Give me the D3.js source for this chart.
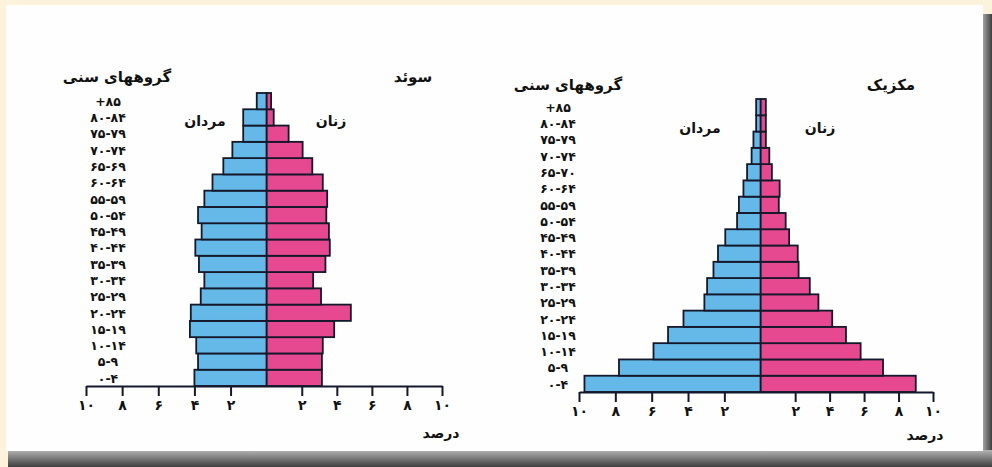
<!DOCTYPE html>
<html>
<head>
<meta charset="utf-8">
<script src="https://cdn.jsdelivr.net/npm/d3@7"></script>
<style>
  body { margin: 0; background: #fdf2dc; }
  svg { display: block; }
  text { font-family: "DejaVu Sans", sans-serif; font-weight: bold; fill: #111; }
</style>
</head>
<body>
<svg id="chart" width="992" height="467"></svg>
<script>
// age groups, bottom to top (as printed in the book)
const ageGroupsSweden = ["۰-۴", "۵-۹", "۱۰-۱۴", "۱۵-۱۹", "۲۰-۲۴", "۲۵-۲۹", "۳۰-۳۴", "۳۵-۳۹", "۴۰-۴۴", "۴۵-۴۹", "۵۰-۵۴", "۵۵-۵۹", "۶۰-۶۴", "۶۵-۶۹", "۷۰-۷۴", "۷۵-۷۹", "۸۰-۸۴", "+۸۵"];
const ageGroupsMexico = ["۰-۴", "۵-۹", "۱۰-۱۴", "۱۵-۱۹", "۲۰-۲۴", "۲۵-۲۹", "۳۰-۳۴", "۳۵-۳۹", "۴۰-۴۴", "۴۵-۴۹", "۵۰-۵۴", "۵۵-۵۹", "۶۰-۶۴", "۶۵-۷۰", "۷۰-۷۴", "۷۵-۷۹", "۸۰-۸۴", "+۸۵"];

// percent of population, same order as the age groups
const swedenMen   = [4.0, 3.8, 3.9, 4.25, 4.2, 3.65, 3.45, 3.75, 3.95, 3.6, 3.8, 3.45, 3.0, 2.4, 1.9, 1.3, 1.3, 0.55];
const swedenWomen = [3.15, 3.15, 3.2, 3.85, 4.8, 3.1, 2.65, 3.35, 3.6, 3.55, 3.4, 3.45, 3.2, 2.6, 2.05, 1.25, 0.4, 0.25];
const mexicoMen   = [9.7, 7.8, 5.9, 5.1, 4.25, 3.1, 2.95, 2.6, 2.35, 1.95, 1.3, 1.2, 0.95, 0.75, 0.5, 0.4, 0.25, 0.25];
const mexicoWomen = [9.0, 7.1, 5.8, 4.95, 4.15, 3.35, 2.85, 2.2, 2.15, 1.65, 1.45, 1.05, 1.1, 0.65, 0.5, 0.3, 0.3, 0.3];

const tickValues = [-10, -8, -6, -4, -2, 2, 4, 6, 8, 10];

const colors = { men: "#64b9e8", women: "#e6498f", outline: "#14182a" };

const fa = s => String(s).replace(/\d/g, d => "۰۱۲۳۴۵۶۷۸۹"[d]);

const svg = d3.select("#chart");

// page frame: cream border, grey shadow, white sheet
const defs = svg.append("defs");
const gB = defs.append("linearGradient").attr("id", "shadowB").attr("x1", 0).attr("y1", 0).attr("x2", 0).attr("y2", 1);
gB.append("stop").attr("offset", "0%").attr("stop-color", "#b4b4b4");
gB.append("stop").attr("offset", "100%").attr("stop-color", "#3e3e3e");
const gR = defs.append("linearGradient").attr("id", "shadowR").attr("x1", 0).attr("y1", 0).attr("x2", 1).attr("y2", 0);
gR.append("stop").attr("offset", "0%").attr("stop-color", "#b8b8b8");
gR.append("stop").attr("offset", "100%").attr("stop-color", "#3e3e3e");

svg.append("rect").attr("width", 992).attr("height", 467).attr("fill", "#fdf2dc");
svg.append("rect").attr("x", 981).attr("y", 14).attr("width", 11).attr("height", 453).attr("fill", "url(#shadowR)");
svg.append("rect").attr("x", 8).attr("y", 450).attr("width", 984).attr("height", 17).attr("fill", "url(#shadowB)");
svg.append("rect").attr("x", 6).attr("y", 5).attr("width", 977).attr("height", 446).attr("fill", "#fefefe");

function pyramid(cfg) {
  const g = svg.append("g");

  const x = d3.scaleLinear()
    .domain([-10, 0, 10])
    .range(cfg.xRange);

  const y = d3.scaleBand()
    .domain(cfg.groups.slice().reverse())
    .range([cfg.top, cfg.axisY])
    .padding(0);

  const rows = cfg.groups.map((a, i) => ({ age: a, men: cfg.men[i], women: cfg.women[i] }));

  // men to the left
  g.selectAll(".men")
    .data(rows)
    .join("rect")
    .attr("class", "men")
    .attr("x", d => x(-d.men))
    .attr("y", d => y(d.age))
    .attr("width", d => x(0) - x(-d.men))
    .attr("height", y.bandwidth())
    .attr("fill", colors.men)
    .attr("stroke", colors.outline)
    .attr("stroke-width", 1.8);

  // women to the right
  g.selectAll(".women")
    .data(rows)
    .join("rect")
    .attr("class", "women")
    .attr("x", x(0))
    .attr("y", d => y(d.age))
    .attr("width", d => x(d.women) - x(0))
    .attr("height", y.bandwidth())
    .attr("fill", colors.women)
    .attr("stroke", colors.outline)
    .attr("stroke-width", 1.8);

  // age labels
  g.selectAll(".age")
    .data(rows)
    .join("text")
    .attr("class", "age")
    .attr("x", cfg.labelX)
    .attr("y", d => y(d.age) + y.bandwidth() / 2)
    .attr("dy", "0.38em")
    .attr("text-anchor", "middle")
    .style("font-size", "12.5px")
    .text(d => d.age);

  // axis
  const axis = g.append("g")
    .attr("transform", `translate(0,${cfg.axisY})`)
    .call(d3.axisBottom(x)
      .tickValues(tickValues)
      .tickSize(10)
      .tickSizeOuter(0)
      .tickPadding(4)
      .tickFormat(d => fa(Math.abs(d))));
  axis.select(".domain").attr("stroke", colors.outline).attr("stroke-width", 2);
  axis.selectAll(".tick line").attr("stroke", colors.outline).attr("stroke-width", 2);
  axis.selectAll(".tick text").style("font-size", "14px").style("font-family", "DejaVu Sans").style("font-weight", "bold").attr("fill", "#111");

  // titles
  const title = (txt, tx, ty, size) => g.append("text")
    .attr("x", tx).attr("y", ty)
    .attr("text-anchor", "middle")
    .style("font-size", size + "px")
    .text(txt);

  title("گروههای سنی", cfg.ageTitle[0], cfg.ageTitle[1], 15);
  title(cfg.country, cfg.countryPos[0], cfg.countryPos[1], 15);
  title("مردان", cfg.menPos[0], cfg.menPos[1], 14);
  title("زنان", cfg.womenPos[0], cfg.womenPos[1], 14);
  title("درصد", cfg.percentPos[0], cfg.percentPos[1], 14);
}

pyramid({
  groups: ageGroupsSweden, men: swedenMen, women: swedenWomen,
  xRange: [86, 266.7, 442], top: 93, axisY: 386,
  labelX: 108,
  country: "سوئد", countryPos: [413, 82],
  ageTitle: [117, 82], menPos: [205, 126], womenPos: [331, 126],
  percentPos: [441, 438]
});

pyramid({
  groups: ageGroupsMexico, men: mexicoMen, women: mexicoWomen,
  xRange: [579, 760.7, 933], top: 99, axisY: 392,
  labelX: 558,
  country: "مکزیک", countryPos: [891, 90],
  ageTitle: [568, 90], menPos: [700, 133], womenPos: [820, 133],
  percentPos: [925, 440]
});
</script>
</body>
</html>
